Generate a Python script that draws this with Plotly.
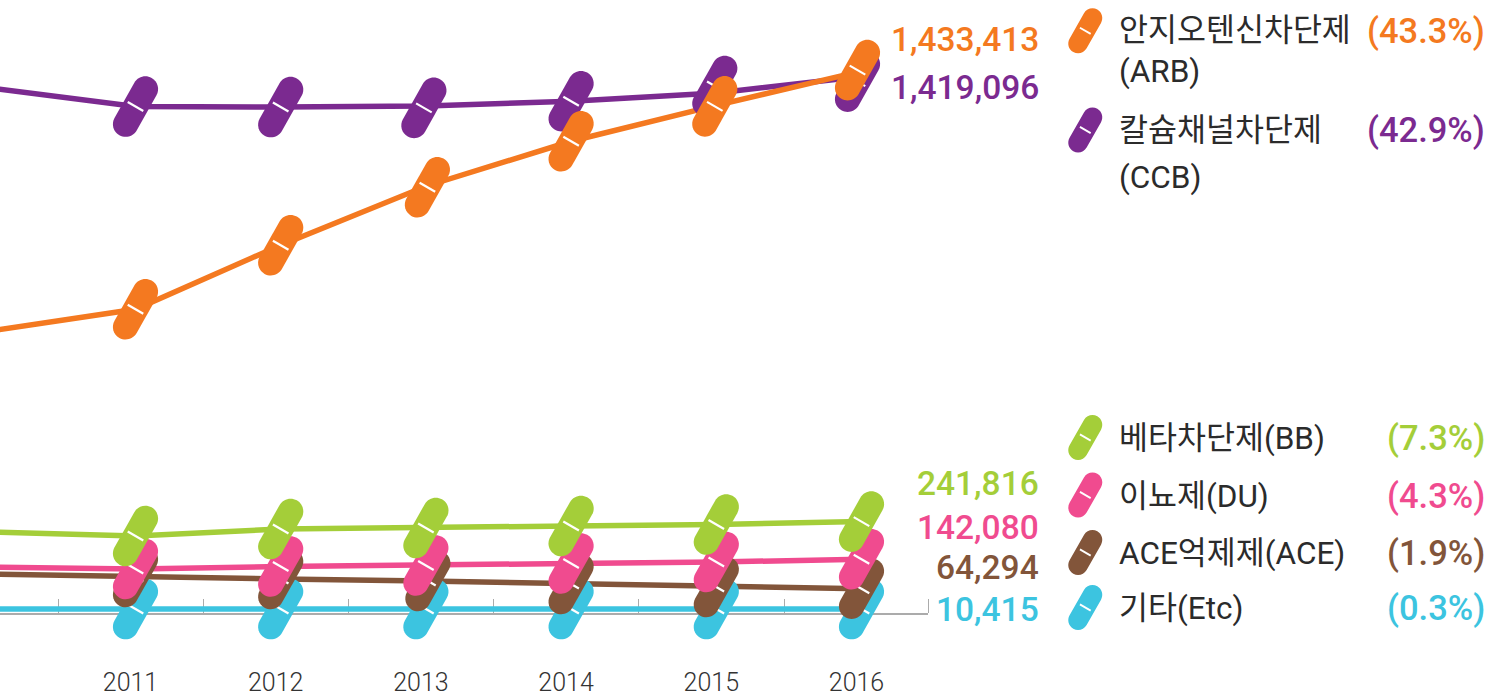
import plotly.graph_objects as go

# ---------- data ----------
years = [2010, 2011, 2012, 2013, 2014, 2015, 2016]
shown_years = [2011, 2012, 2013, 2014, 2015, 2016]
arb = [746000, 803500, 973000, 1129000, 1248000, 1343000, 1433413]
ccb = [1388900, 1339800, 1338500, 1341500, 1354000, 1375700, 1419096]
bb = [214300, 203700, 222200, 224900, 230200, 234100, 241816]
du = [121700, 116400, 123000, 125700, 131000, 134900, 142080]
ace = [103200, 95200, 89900, 84700, 76700, 68800, 64294]
etc = [10415, 10415, 10415, 10415, 10415, 10415, 10415]

names = ["안지오텐신차단제", "칼슘채널차단제", "베타차단제(BB)", "이뇨제(DU)", "ACE억제제(ACE)", "기타(Etc)"]
name_second_lines = ["(ARB)", "(CCB)", "", "", "", ""]
shares = ["43.3%", "42.9%", "7.3%", "4.3%", "1.9%", "0.3%"]
colors = ["#F47920", "#7B2A90", "#A4CE39", "#F04B8F", "#82553A", "#3CC4E0"]
series = [arb, ccb, bb, du, ace, etc]

# ---------- layout constants ----------
W, H = 1504, 696
PX_PER_YEAR = 145.2
PX_2011 = 135.5
AXIS_RIGHT = 928
AXIS_Y = 614
ZERO_Y = 613.0
PX_PER_UNIT = 0.000378
LABEL_SHIFT = 5.0 / PX_PER_YEAR
TICK_SHIFT = 77.5 / PX_PER_YEAR
KOR = "Roboto, 'Noto Sans CJK KR', sans-serif"


def fx(px):
    return px / W


def fy(py):
    return 1 - py / H


def capsule(dx, dy, r, ox=0.0, oy=0.0):
    ln = (dx * dx + dy * dy) ** 0.5
    ux, uy = dx / ln, dy / ln
    nx, ny = uy, -ux
    k = 0.5523 * r
    ax, ay = ox + dx, oy + dy
    bx, by = ox - dx, oy - dy

    def p(x, y):
        return f"{x:.2f},{y:.2f}"

    return (
        "M" + p(bx + r * nx, by + r * ny)
        + " L" + p(ax + r * nx, ay + r * ny)
        + " C" + p(ax + r * nx + k * ux, ay + r * ny + k * uy) + " " + p(ax + r * ux + k * nx, ay + r * uy + k * ny) + " " + p(ax + r * ux, ay + r * uy)
        + " C" + p(ax + r * ux - k * nx, ay + r * uy - k * ny) + " " + p(ax - r * nx + k * ux, ay - r * ny + k * uy) + " " + p(ax - r * nx, ay - r * ny)
        + " L" + p(bx - r * nx, by - r * ny)
        + " C" + p(bx - r * nx - k * ux, by - r * ny - k * uy) + " " + p(bx - r * ux - k * nx, by - r * uy - k * ny) + " " + p(bx - r * ux, by - r * uy)
        + " C" + p(bx - r * ux + k * nx, by - r * uy + k * ny) + " " + p(bx + r * nx - k * ux, by + r * ny - k * uy) + " " + p(bx + r * nx, by + r * ny)
        + " Z"
    )


def score(half, ox=0.0, oy=0.0):
    # score mark runs across the pill at 30 degrees
    sx, sy = half * 0.866, half * 0.5
    return f"M{ox - sx:.2f},{oy + sy:.2f} L{ox + sx:.2f},{oy - sy:.2f}"


fig = go.Figure()
draw_order = [5, 4, 3, 2, 1, 0]
for i in draw_order:
    fig.add_trace(go.Scatter(x=years, y=series[i], mode="lines", hoverinfo="skip", showlegend=False,
                             line=dict(color=colors[i], width=5.5)))

# small nudges of individual pills away from their data point (px: right, up)
nudge = {(1, 2015): (-1.5, 7.0), (1, 2016): (-4.0, -5.0), (0, 2016): (-4.0, 1.0), (0, 2015): (-1.5, -1.0),
         (1, 2013): (-2.0, -2.0), (0, 2013): (1.5, -1.0), (4, 2013): (2.0, 0.0)}

shapes = []
for i in draw_order:
    for yr, v in zip(years, series[i]):
        if yr not in shown_years:
            continue
        ox, oy = nudge.get((i, yr), (0.0, 0.0))
        base = dict(xref="x", yref="y", xsizemode="pixel", ysizemode="pixel", xanchor=yr, yanchor=v,
                    type="path", layer="above")
        shapes.append(dict(base, path=capsule(9.9, 17.6, 12.7, ox, oy), fillcolor=colors[i], line=dict(width=0)))
        shapes.append(dict(base, path=score(9.0, ox, oy), line=dict(color="white", width=2.2)))

annotations = []


def text(s, px, py, anchor, size, color, weight=400, family="Roboto, sans-serif"):
    annotations.append(dict(xref="paper", yref="paper", x=fx(px), y=fy(py), text=s, showarrow=False,
                            xanchor=anchor, yanchor="middle", borderpad=0,
                            font=dict(family=family, size=size, color=color, weight=weight)))


value_label_y = [39.5, 87.5, 483, 527, 567, 609.5]
legend_pill_y = [30.8, 130, 437.5, 495, 552.5, 607.5]
legend_text_y = [31, 131, 438, 496, 553, 608]
second_line_y = [72, 177, 0, 0, 0, 0]
share_y = [31, 130, 438, 496, 553, 608]

for i in range(6):
    text(f"{series[i][-1]:,}", 1040, value_label_y[i], "right", 33.5, colors[i], 460)
    text("(" + shares[i] + ")", 1486, share_y[i], "right", 34.5, colors[i], 460)
    text(names[i], 1118, legend_text_y[i], "left", 31.5, "#2b2b2b", 400, KOR)
    if name_second_lines[i]:
        text(name_second_lines[i], 1118, second_line_y[i], "left", 31.5, "#2b2b2b", 400, KOR)
    base = dict(xref="paper", yref="paper", xsizemode="pixel", ysizemode="pixel", xanchor=fx(1085.3),
                yanchor=fy(legend_pill_y[i]), type="path", layer="above")
    shapes.append(dict(base, path=capsule(7.2, 12.7, 9.8), fillcolor=colors[i], line=dict(width=0)))
    shapes.append(dict(base, path=score(6.2), line=dict(color="white", width=1.8)))

x_range = [2011 - PX_2011 / PX_PER_YEAR, 2011 + (AXIS_RIGHT - PX_2011) / PX_PER_YEAR]
minor_vals = [y - TICK_SHIFT for y in shown_years] + [x_range[1]]

fig.update_layout(
    width=W, height=H, margin=dict(l=0, r=0, t=0, b=0, autoexpand=False),
    paper_bgcolor="white", plot_bgcolor="white", showlegend=False,
    shapes=shapes, annotations=annotations,
    xaxis=dict(domain=[0, AXIS_RIGHT / W], range=x_range, anchor="free", position=1 - AXIS_Y / H,
               showgrid=False, zeroline=False, showline=True, linecolor="#ABABAB", linewidth=1.5,
               layer="below traces", automargin=False,
               tickmode="array", tickvals=[y - LABEL_SHIFT for y in shown_years],
               ticktext=[str(y) for y in shown_years], ticks="", ticklabelstandoff=46,
               tickfont=dict(family="Roboto, sans-serif", size=25, color="#333333", weight=300),
               minor=dict(tickmode="array", tickvals=minor_vals, ticks="inside", ticklen=14, tickwidth=1,
                          tickcolor="#ABABAB", showgrid=False)),
    yaxis=dict(domain=[0, 1], range=[(ZERO_Y - H) / PX_PER_UNIT, ZERO_Y / PX_PER_UNIT], visible=False),
)

fig.write_html("out.html", config=dict(displayModeBar=False),
               post_script="document.body.style.margin='0';")
